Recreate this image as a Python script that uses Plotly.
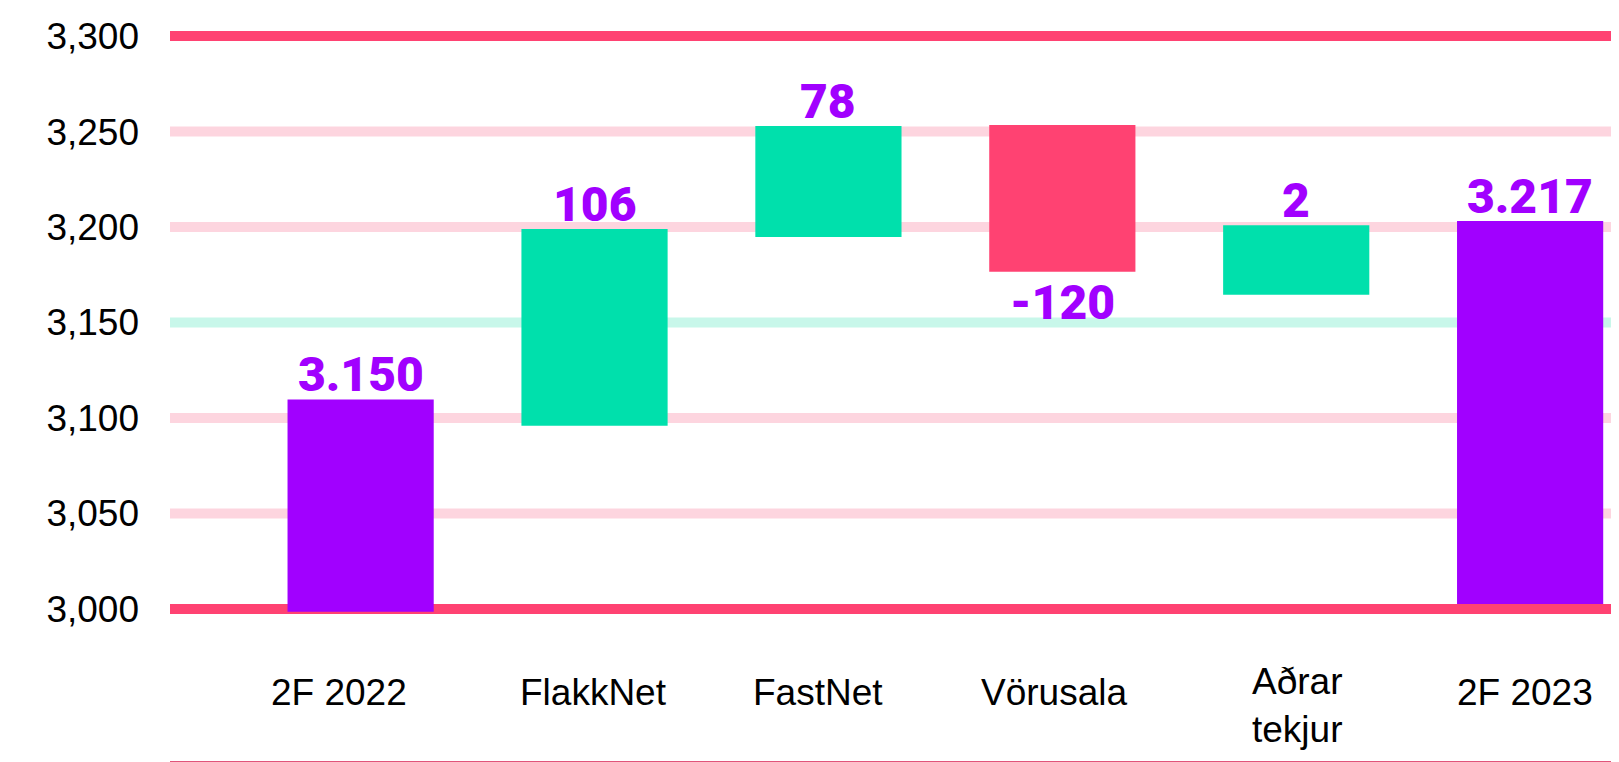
import plotly.graph_objects as go

# values (bar ends in axis units, printed labels as shown)
categories = ["2F 2022", "FlakkNet", "FastNet", "Vörusala", "Aðrar<br>tekjur", "2F 2023"]
bar_start = [2998.6, 3096.0, 3194.8, 3253.4, 3164.6, 3002.6]
bar_end = [3109.7, 3199.0, 3252.9, 3176.6, 3201.0, 3203.1]
value_labels = ["3.150", "106", "78", "-120", "2", "3.217"]
kinds = ["total", "up", "up", "down", "up", "total"]
y_ticks = [3000, 3050, 3100, 3150, 3200, 3250, 3300]

PURPLE = "#A100FF"
GREEN = "#00E0AC"
RED = "#FF4272"
PINK = "#FDD5DF"
MINT = "#C8F7EA"
BAR_COLORS = {"total": PURPLE, "up": GREEN, "down": RED}
GRID_COLORS = {3000: RED, 3300: RED, 3150: MINT}
AXIS_FONT = dict(family="Liberation Sans, Arial, sans-serif", size=37, color="#000000")
VALUE_FONT = dict(family="Roboto, Inter, sans-serif", size=48, color=PURPLE, weight=900)
LABEL_XSHIFT = [-22, -1, -10, -8, 1, -5]  # the category labels sit a bit off the bars

heights = [e - s for s, e in zip(bar_start, bar_end)]

fig = go.Figure(go.Bar(
    x=categories,
    base=bar_start,
    y=heights,
    width=0.625,
    marker=dict(color=[BAR_COLORS[k] for k in kinds], line=dict(width=0)),
    hoverinfo="skip",
))

# coloured grid lines
for t in y_ticks:
    fig.add_shape(
        type="line", xref="paper", x0=0, x1=1, yref="y", y0=t, y1=t,
        line=dict(color=GRID_COLORS.get(t, PINK), width=10), layer="below",
    )

# value labels at the open end of each bar
for cat, end, lab, kind in zip(categories, bar_end, value_labels, kinds):
    down = kind == "down"
    fig.add_annotation(
        x=cat, xref="x", y=end, yref="y",
        yanchor="top" if down else "bottom",
        yshift=0 if down else -6,
        text=lab, showarrow=False, font=VALUE_FONT,
    )

# category labels under the bars
for cat, dx in zip(categories, LABEL_XSHIFT):
    fig.add_annotation(
        x=cat, xref="x", y=0.0916, yref="paper", yanchor="middle",
        text=cat, showarrow=False, font=AXIS_FONT,
        xshift=dx, yshift=-13 if "<br>" in cat else 0,
    )

# page body keeps an 8px margin, so the figure is 8px smaller each way
fig.update_layout(
    width=1611, height=754,
    margin=dict(l=162, r=0, t=0, b=1),
    plot_bgcolor="white", paper_bgcolor="white",
    showlegend=False,
    xaxis=dict(range=[-0.815, 5.38], showticklabels=False, showgrid=False,
               zeroline=False, showline=True, linecolor="#E0557A", linewidth=1.5),
    yaxis=dict(range=[2920.4, 3314.7], tickvals=y_ticks, tickformat=",",
               showgrid=False, zeroline=False, tickfont=AXIS_FONT,
               ticklabelstandoff=30),
)

fig.write_html("out.html")
